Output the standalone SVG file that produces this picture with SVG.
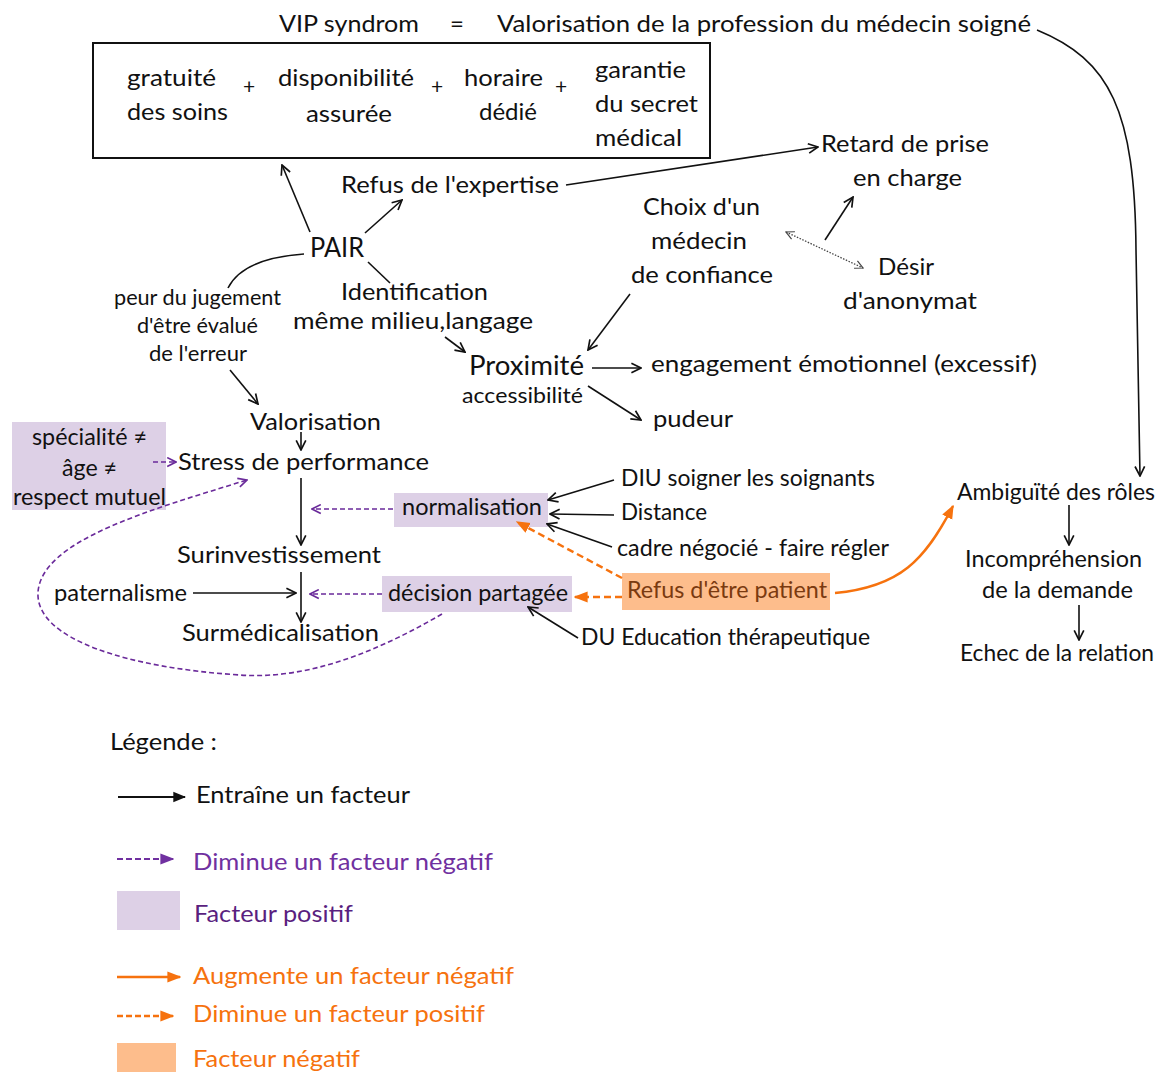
<svg xmlns="http://www.w3.org/2000/svg" width="1163" height="1072" viewBox="0 0 1163 1072">
<style>
text{font-family:Lato,"Liberation Sans",sans-serif;font-size:24px;fill:#111}
.s{font-size:21px}
.ln{fill:none;stroke:#111;stroke-width:1.6}
.pd{fill:none;stroke:#6a2a9a;stroke-width:1.6;stroke-dasharray:5,3}
.od{fill:none;stroke:#f6720e;stroke-width:2.4;stroke-dasharray:7,4}
.os{fill:none;stroke:#f6720e;stroke-width:2.4}
.pf{fill:#ddd0e6}
.of{fill:#fdbd8c}
.pt{fill:#7030a0}
.pt2{fill:#5a1f80}
.ot{fill:#f6720e}
.pl{font-size:21px;text-anchor:middle}
</style>
<defs>
<marker id="a" viewBox="0 0 10 10" refX="9" refY="5" markerWidth="12" markerHeight="12" markerUnits="userSpaceOnUse" orient="auto"><path d="M1,1 L9,5 L1,9" fill="none" stroke="#111" stroke-width="1.4"/></marker>
<marker id="af" viewBox="0 0 10 10" refX="9" refY="5" markerWidth="13" markerHeight="13" markerUnits="userSpaceOnUse" orient="auto"><path d="M0,1 L10,5 L0,9 z" fill="#111"/></marker>
<marker id="ad" viewBox="0 0 10 10" refX="9" refY="5" markerWidth="10" markerHeight="10" markerUnits="userSpaceOnUse" orient="auto-start-reverse"><path d="M1,1 L9,5 L1,9" fill="none" stroke="#444" stroke-width="1.2"/></marker>
<marker id="p" viewBox="0 0 10 10" refX="9" refY="5" markerWidth="11" markerHeight="11" markerUnits="userSpaceOnUse" orient="auto"><path d="M1,1 L9,5 L1,9" fill="none" stroke="#6a2a9a" stroke-width="1.5"/></marker>
<marker id="pf" viewBox="0 0 10 10" refX="9" refY="5" markerWidth="14" markerHeight="14" markerUnits="userSpaceOnUse" orient="auto"><path d="M0,1 L10,5 L0,9 z" fill="#7030a0"/></marker>
<marker id="o" viewBox="0 0 10 10" refX="9" refY="5" markerWidth="14" markerHeight="14" markerUnits="userSpaceOnUse" orient="auto"><path d="M0,1 L10,5 L0,9 z" fill="#f6720e"/></marker>
</defs>

<g id="nodes">
<g id="vip"><text x="279" y="32" textLength="140" lengthAdjust="spacingAndGlyphs">VIP syndrom</text><text x="450" y="32">=</text><text x="497" y="32" textLength="534" lengthAdjust="spacingAndGlyphs">Valorisation de la profession du médecin soigné</text></g>
<g id="box">
<rect x="93" y="43" width="617" height="115" fill="none" stroke="#111" stroke-width="2"/>
<text x="127" y="86" textLength="89" lengthAdjust="spacingAndGlyphs">gratuité</text><text x="127" y="120" textLength="101" lengthAdjust="spacingAndGlyphs">des soins</text>
<text class="pl" x="249" y="94">+</text>
<text x="278" y="86" textLength="136" lengthAdjust="spacingAndGlyphs">disponibilité</text><text x="306" y="122" textLength="86" lengthAdjust="spacingAndGlyphs">assurée</text>
<text class="pl" x="437" y="94">+</text>
<text x="464" y="86" textLength="79" lengthAdjust="spacingAndGlyphs">horaire</text><text x="479" y="120" textLength="58" lengthAdjust="spacingAndGlyphs">dédié</text>
<text class="pl" x="561" y="94">+</text>
<text x="595" y="78" textLength="91" lengthAdjust="spacingAndGlyphs">garantie</text><text x="595" y="112" textLength="103" lengthAdjust="spacingAndGlyphs">du secret</text><text x="595" y="146" textLength="87" lengthAdjust="spacingAndGlyphs">médical</text>
</g>
<g id="refus-expertise"><text x="341" y="193" textLength="218" lengthAdjust="spacingAndGlyphs">Refus de l'expertise</text></g>
<g id="retard"><text x="821" y="152" textLength="168" lengthAdjust="spacingAndGlyphs">Retard de prise</text><text x="853" y="186" textLength="109" lengthAdjust="spacingAndGlyphs">en charge</text></g>
<g id="choix"><text x="643" y="215" textLength="117" lengthAdjust="spacingAndGlyphs">Choix d'un</text><text x="651" y="249" textLength="96" lengthAdjust="spacingAndGlyphs">médecin</text><text x="631" y="283" textLength="142" lengthAdjust="spacingAndGlyphs">de confiance</text></g>
<g id="desir"><text x="878" y="275" textLength="56" lengthAdjust="spacingAndGlyphs">Désir</text><text x="843" y="309" textLength="134" lengthAdjust="spacingAndGlyphs">d'anonymat</text></g>
<g id="pair"><text x="310" y="257" style="font-size:26px" textLength="54" lengthAdjust="spacingAndGlyphs">PAIR</text></g>
<g id="peur"><text class="s" x="114" y="305" textLength="167" lengthAdjust="spacingAndGlyphs">peur du jugement</text><text class="s" x="137" y="333" textLength="121" lengthAdjust="spacingAndGlyphs">d'être évalué</text><text class="s" x="149" y="361" textLength="98" lengthAdjust="spacingAndGlyphs">de l'erreur</text></g>
<g id="identification"><text x="341" y="300" textLength="147" lengthAdjust="spacingAndGlyphs">Identification</text><text x="293" y="329" textLength="240" lengthAdjust="spacingAndGlyphs">même milieu,langage</text></g>
<g id="proximite"><text x="469" y="375" style="font-size:27px" textLength="115" lengthAdjust="spacingAndGlyphs">Proximité</text><text class="s" x="462" y="403" textLength="121" lengthAdjust="spacingAndGlyphs">accessibilité</text></g>
<g id="engagement"><text x="651" y="372" textLength="386" lengthAdjust="spacingAndGlyphs">engagement émotionnel (excessif)</text></g>
<g id="pudeur"><text x="653" y="427" textLength="80" lengthAdjust="spacingAndGlyphs">pudeur</text></g>
<g id="valorisation"><text x="250" y="430" textLength="131" lengthAdjust="spacingAndGlyphs">Valorisation</text></g>
<g id="stress"><text x="178" y="470" textLength="251" lengthAdjust="spacingAndGlyphs">Stress de performance</text></g>
<g id="specialite"><rect class="pf" x="12" y="422" width="154" height="88"/><text x="32" y="445" textLength="115" lengthAdjust="spacingAndGlyphs">spécialité ≠</text><text x="62" y="476" textLength="55" lengthAdjust="spacingAndGlyphs">âge ≠</text><text x="13" y="505" textLength="153" lengthAdjust="spacingAndGlyphs">respect mutuel</text></g>
<g id="surinvestissement"><text x="177" y="563" textLength="204" lengthAdjust="spacingAndGlyphs">Surinvestissement</text></g>
<g id="normalisation"><rect class="pf" x="394" y="493" width="154" height="34"/><text x="402" y="515" textLength="140" lengthAdjust="spacingAndGlyphs">normalisation</text></g>
<g id="diu"><text x="621" y="486" textLength="254" lengthAdjust="spacingAndGlyphs">DIU soigner les soignants</text></g>
<g id="distance"><text x="621" y="520" textLength="86" lengthAdjust="spacingAndGlyphs">Distance</text></g>
<g id="cadre"><text x="617" y="556" textLength="272" lengthAdjust="spacingAndGlyphs">cadre négocié - faire régler</text></g>
<g id="refus-patient"><rect class="of" x="622" y="573" width="208" height="37"/><text x="627" y="598" style="fill:#7a3a10" textLength="200" lengthAdjust="spacingAndGlyphs">Refus d'être patient</text></g>
<g id="decision"><rect class="pf" x="382" y="576" width="190" height="36"/><text x="388" y="601" textLength="180" lengthAdjust="spacingAndGlyphs">décision partagée</text></g>
<g id="paternalisme"><text x="54" y="601" textLength="133" lengthAdjust="spacingAndGlyphs">paternalisme</text></g>
<g id="surmedicalisation"><text x="182" y="641" textLength="197" lengthAdjust="spacingAndGlyphs">Surmédicalisation</text></g>
<g id="du"><text x="581" y="645" textLength="289" lengthAdjust="spacingAndGlyphs">DU Education thérapeutique</text></g>
<g id="ambiguite"><text x="957" y="500" textLength="198" lengthAdjust="spacingAndGlyphs">Ambiguïté des rôles</text></g>
<g id="incomprehension"><text x="965" y="567" textLength="177" lengthAdjust="spacingAndGlyphs">Incompréhension</text><text x="982" y="598" textLength="151" lengthAdjust="spacingAndGlyphs">de la demande</text></g>
<g id="echec"><text x="960" y="661" textLength="194" lengthAdjust="spacingAndGlyphs">Echec de la relation</text></g>
</g>

<g id="connectors">
<path class="ln" d="M1037,30 C1110,60 1135,110 1136,250 L1140,476" marker-end="url(#a)"/>
<path class="ln" d="M566,185 L818,147" marker-end="url(#a)"/>
<path class="ln" d="M825,240 L853,197" marker-end="url(#a)"/>
<path d="M786,232 L863,268" fill="none" stroke="#444" stroke-width="1.3" stroke-dasharray="1.5,1.5" marker-start="url(#ad)" marker-end="url(#ad)"/>
<path class="ln" d="M310,232 L282,165" marker-end="url(#a)"/>
<path class="ln" d="M365,233 L402,200" marker-end="url(#a)"/>
<path class="ln" d="M368,262 L390,283"/>
<path class="ln" d="M304,254 C262,257 238,268 228,288"/>
<path class="ln" d="M230,370 L258,404" marker-end="url(#a)"/>
<path class="ln" d="M445,337 L465,352" marker-end="url(#a)"/>
<path class="ln" d="M630,294 L588,350" marker-end="url(#a)"/>
<path class="ln" d="M592,368 L641,368" marker-end="url(#a)"/>
<path class="ln" d="M588,386 L641,420" marker-end="url(#a)"/>
<path class="ln" d="M301,432 L301,450" marker-end="url(#a)"/>
<path class="pd" d="M153,462 L176,462" marker-end="url(#p)"/>
<path class="ln" d="M301,478 L301,545" marker-end="url(#a)"/>
<path class="pd" d="M393,509 L312,509" marker-end="url(#p)"/>
<path class="ln" d="M614,480 L548,500" marker-end="url(#a)"/>
<path class="ln" d="M614,515 L550,514" marker-end="url(#a)"/>
<path class="ln" d="M612,547 L547,524" marker-end="url(#a)"/>
<path class="od" d="M622,578 L517,522" marker-end="url(#o)"/>
<path class="os" d="M835,593 C900,587 925,560 953,506" marker-end="url(#o)"/>
<path class="od" d="M622,597 L575,597" marker-end="url(#o)"/>
<path class="pd" d="M382,594 L310,594" marker-end="url(#p)"/>
<path class="ln" d="M301,572 L301,622" marker-end="url(#a)"/>
<path class="ln" d="M193,593 L296,593" marker-end="url(#a)"/>
<path class="ln" d="M578,638 L528,607" marker-end="url(#a)"/>
<path class="pd" d="M442,614 C380,650 310,680 240,675 C130,668 35,640 38,592 C42,540 150,510 247,480" marker-end="url(#p)"/>
<path class="ln" d="M1069,505 L1069,545" marker-end="url(#a)"/>
<path class="ln" d="M1079,605 L1079,640" marker-end="url(#a)"/>
</g>

<g id="legend">
<text x="110" y="750" textLength="107" lengthAdjust="spacingAndGlyphs">Légende :</text>
<path d="M118,797 L185,797" stroke="#111" stroke-width="2" marker-end="url(#af)"/>
<text x="196" y="803" textLength="214" lengthAdjust="spacingAndGlyphs">Entraîne un facteur</text>
<path d="M117,859 L173,859" stroke="#7030a0" stroke-width="2" stroke-dasharray="6,3" marker-end="url(#pf)"/>
<text class="pt" x="193" y="870" textLength="300" lengthAdjust="spacingAndGlyphs">Diminue un facteur négatif</text>
<rect class="pf" x="117" y="891" width="63" height="39"/>
<text class="pt2" x="194" y="922" textLength="159" lengthAdjust="spacingAndGlyphs">Facteur positif</text>
<path d="M117,977 L180,977" stroke="#f6720e" stroke-width="2.4" marker-end="url(#o)"/>
<text class="ot" x="193" y="984" textLength="321" lengthAdjust="spacingAndGlyphs">Augmente un facteur négatif</text>
<path d="M117,1016 L173,1016" stroke="#f6720e" stroke-width="2.4" stroke-dasharray="6,3" marker-end="url(#o)"/>
<text class="ot" x="193" y="1022" textLength="292" lengthAdjust="spacingAndGlyphs">Diminue un facteur positif</text>
<rect class="of" x="117" y="1043" width="59" height="30"/>
<text class="ot" x="193" y="1067" textLength="167" lengthAdjust="spacingAndGlyphs">Facteur négatif</text>
</g>
</svg>
